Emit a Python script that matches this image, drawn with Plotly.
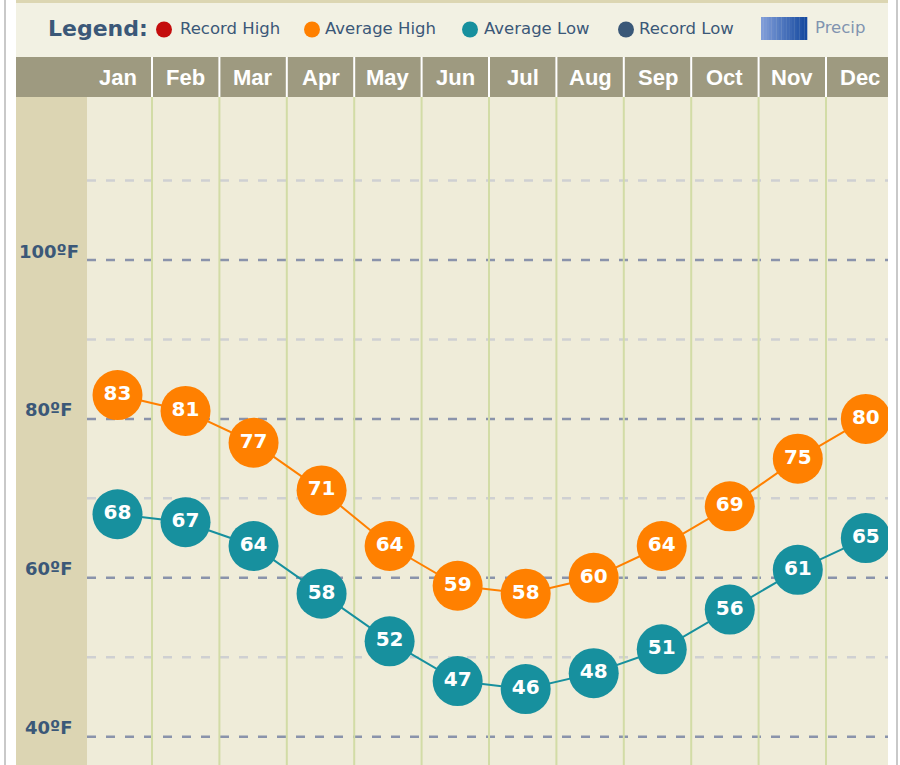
import plotly.graph_objects as go

# chart data
months = ["Jan", "Feb", "Mar", "Apr", "May", "Jun", "Jul", "Aug", "Sep", "Oct", "Nov", "Dec"]
avg_high = [83, 81, 77, 71, 64, 59, 58, 60, 64, 69, 75, 80]
avg_low = [68, 67, 64, 58, 52, 47, 46, 48, 51, 56, 61, 65]
y_ticks = [40, 60, 80, 100]
y_minor = [50, 70, 90, 110]
legend_names = ["Record High", "Average High", "Average Low", "Record Low"]
legend_colors = ["#c40d0d", "#ff8000", "#17909e", "#3a5878"]

W, H = 900, 765
ORANGE = "#ff8000"
TEAL = "#17909e"
SLATE = "#3b5878"


def px(x):
    return x / W


def py(y):
    return 1 - y / H


# pixel <-> value mappings for the axes (axes fill the whole figure)
mx0, mstep = 117.5, 68.03       # marker column centers
hx0, hstep = 118.3, 67.4        # header cell centers
ty40, tstep = 736.7, 7.945      # pixel of 40F, pixels per degree

x_range = [-mx0 / mstep, (W - mx0) / mstep]
x2_range = [-hx0 / hstep, (W - hx0) / hstep]
y_range = [40 - (H - ty40) / tstep, 40 + ty40 / tstep]

fig = go.Figure()

for vals, col, name in [(avg_high, ORANGE, "Average High"), (avg_low, TEAL, "Average Low")]:
    fig.add_trace(go.Scatter(
        x=list(range(len(months))), y=vals, name=name,
        mode="lines+markers+text",
        line=dict(color=col, width=2),
        marker=dict(size=50, color=col, line=dict(width=0)),
        text=[str(v) for v in vals],
        textposition="middle center",
        textfont=dict(family="DejaVu Sans", size=20, color="white", weight="bold"),
        cliponaxis=False, hoverinfo="skip",
    ))

shapes = []


def rect(x0, y0, x1, y1, color, layer="below"):
    shapes.append(dict(type="rect", xref="paper", yref="paper",
                       x0=px(x0), x1=px(x1), y0=py(y1), y1=py(y0),
                       fillcolor=color, line=dict(width=0), layer=layer))


rect(16, 0, 888, 3, "#dcd6b2")
rect(16, 3, 888, 57, "#f2f1e3")
rect(16, 57, 888, 97, "#9e9a80")
rect(16, 97, 87, H, "#dcd5b3")
rect(87, 97, 888, H, "#efecd9")

# dashed grid
for t in y_ticks + y_minor:
    shapes.append(dict(type="line", xref="paper", yref="y",
                       x0=px(87), x1=px(888), y0=t, y1=t,
                       line=dict(color="#8a93ab" if t in y_ticks else "#cfd0d2",
                                 width=2.5, dash="9px,10px"),
                       layer="below"))

# column separators
for i in range(len(months) - 1):
    shapes.append(dict(type="line", xref="x2", yref="paper",
                       x0=i + 0.5, x1=i + 0.5, y0=0, y1=py(97),
                       line=dict(color="#d2dca6", width=2), layer="below"))
    shapes.append(dict(type="line", xref="x2", yref="paper",
                       x0=i + 0.5, x1=i + 0.5, y0=py(97), y1=py(57),
                       line=dict(color="white", width=2), layer="below"))

# legend dots and precip swatch
dot_x = [164, 312, 470, 626]
for cx, c in zip(dot_x, legend_colors):
    shapes.append(dict(type="circle", xref="paper", yref="paper",
                       x0=px(cx - 8), x1=px(cx + 8), y0=py(37.5), y1=py(21.5),
                       fillcolor=c, line=dict(width=0), layer="above"))
n = 18
c0, c1 = (128, 157, 216), (22, 74, 160)
for k in range(n):
    f = k / (n - 1)
    c = "rgb(%d,%d,%d)" % tuple(round(a + (b - a) * f) for a, b in zip(c0, c1))
    x0 = 761 + k * 46 / n
    rect(x0, 17, x0 + 46 / n + 0.3, 40, c, layer="above")

# clip right edge and page borders
rect(888, 0, 897, H, "white", layer="above")
for bx in [5, 897]:
    shapes.append(dict(type="line", xref="paper", yref="paper",
                       x0=px(bx), x1=px(bx), y0=0, y1=1,
                       line=dict(color="#c9c9c9", width=2), layer="above"))

annotations = []
for i, m in enumerate(months):
    annotations.append(dict(text=m, xref="x2", yref="paper", x=i, y=py(78),
                            showarrow=False, xanchor="center", yanchor="middle",
                            font=dict(family="Liberation Sans", size=22, color="white", weight="bold")))
for t in y_ticks:
    annotations.append(dict(text=f"{t}ºF", xref="paper", yref="y", x=px(49), y=t,
                            yshift=9, showarrow=False, xanchor="center", yanchor="middle",
                            font=dict(family="DejaVu Sans", size=18, color=SLATE, weight="bold")))

annotations.append(dict(text="Legend:", xref="paper", yref="paper", x=px(46), y=py(29),
                        showarrow=False, xanchor="left", yanchor="middle",
                        font=dict(family="DejaVu Sans", size=22, color=SLATE, weight="bold")))
text_x = [178, 323, 482, 637]
for tx, name in zip(text_x, legend_names):
    annotations.append(dict(text=name, xref="paper", yref="paper", x=px(tx), y=py(29),
                            showarrow=False, xanchor="left", yanchor="middle",
                            font=dict(family="DejaVu Sans", size=16.5, color=SLATE)))
annotations.append(dict(text="Precip", xref="paper", yref="paper", x=px(813), y=py(28),
                        showarrow=False, xanchor="left", yanchor="middle",
                        font=dict(family="DejaVu Sans", size=16.5, color="#8194b0")))

fig.update_layout(
    width=W, height=H, autosize=False,
    margin=dict(l=0, r=0, t=0, b=0, pad=0),
    paper_bgcolor="white", plot_bgcolor="rgba(0,0,0,0)",
    showlegend=False,
    xaxis=dict(range=x_range, visible=False, fixedrange=True),
    xaxis2=dict(range=x2_range, visible=False, overlaying="x", fixedrange=True),
    yaxis=dict(range=y_range, visible=False, fixedrange=True),
    shapes=shapes, annotations=annotations,
)

fig.write_html("out.html", config={"displayModeBar": False},
               post_script="document.body.style.margin='0';")
